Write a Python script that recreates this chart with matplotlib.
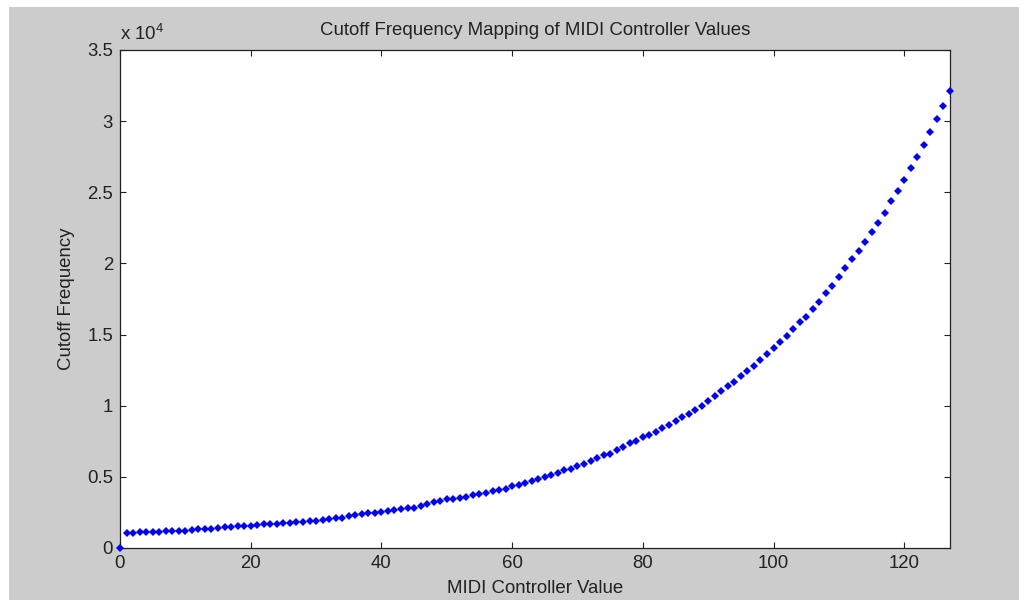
import matplotlib
matplotlib.use("Agg")
import matplotlib.pyplot as plt
from matplotlib.patches import Rectangle
from matplotlib.ticker import FuncFormatter

plt.rcParams["font.family"] = ["Liberation Sans", "DejaVu Sans"]
plt.rcParams["mathtext.fontset"] = "custom"
plt.rcParams["mathtext.rm"] = "Liberation Sans"

# MIDI controller values 0..127 and the cutoff frequencies
controller = list(range(128))
cutoff = [
    0, 1030, 1065, 1090, 1100, 1110, 1130, 1190, 1200, 1210,
    1225, 1300, 1310, 1320, 1335, 1440, 1450, 1460, 1530, 1545,
    1560, 1650, 1660, 1670, 1720, 1735, 1790, 1815, 1830, 1905,
    1920, 2000, 2050, 2075, 2140, 2230, 2285, 2375, 2425, 2440,
    2515, 2610, 2660, 2750, 2820, 2845, 2935, 3075, 3215, 3330,
    3448, 3476, 3545, 3587, 3706, 3776, 3867, 3986, 4056, 4147,
    4336, 4455, 4566, 4685, 4846, 4965, 5154, 5266, 5455, 5573,
    5755, 5923, 6105, 6315, 6503, 6622, 6902, 7086, 7366, 7552,
    7785, 7972, 8134, 8438, 8671, 8951, 9231, 9420, 9720, 10000,
    10301, 10650, 11000, 11399, 11678, 12098, 12425, 12797, 13240, 13636,
    14056, 14452, 14872, 15361, 15897, 16270, 16783, 17319, 17924, 18438,
    19044, 19650, 20280, 20887, 21515, 22191, 22820, 23543, 24359, 25082,
    25874, 26690, 27506, 28345, 29231, 30163, 31098, 32098,
]
x_ticks = [0, 20, 40, 60, 80, 100, 120]
y_ticks = [0, 5000, 10000, 15000, 20000, 25000, 30000, 35000]

W, H = 1020, 600
FS = 13.4
TXT = "#222222"

fig = plt.figure(figsize=(W / 100, H / 100), dpi=100, facecolor="white")
# grey window area, leaving the thin white strip at top and left
fig.patches.append(Rectangle((9 / W, 0), 1 - 9 / W, (H - 7) / H,
                             transform=fig.transFigure, facecolor="#cccccc",
                             edgecolor="none", zorder=-10))

ax = fig.add_axes((120 / W, 52 / H, 830 / W, 498 / H))
ax.set_facecolor("white")
ax.plot(controller, cutoff, linestyle="none", marker="D", markersize=4.0,
        color="#0000ff", markeredgewidth=0, clip_on=False, zorder=5)

ax.set_xlim(0, 127)
ax.set_ylim(0, 35000)
ax.set_xticks(x_ticks)
ax.set_yticks(y_ticks)
ax.yaxis.set_major_formatter(FuncFormatter(lambda v, p: f"{v / 1e4:g}"))
ax.tick_params(direction="in", length=4.5, width=0.8, top=True, right=True,
               labelsize=FS, pad=5, colors=TXT)
for s in ax.spines.values():
    s.set_linewidth(0.9)
    s.set_color(TXT)

ax.set_title("Cutoff Frequency Mapping of MIDI Controller Values",
             fontsize=FS, color=TXT, pad=11)
ax.set_xlabel("MIDI Controller Value", fontsize=FS, color=TXT, labelpad=6)
ax.set_ylabel("Cutoff Frequency", fontsize=FS, color=TXT, labelpad=9)
ax.text(0, 1.012, r"x 10$^{4}$", transform=ax.transAxes, fontsize=FS,
        color=TXT, ha="left", va="bottom")

fig.savefig("out.png", dpi=100, facecolor=fig.get_facecolor())
